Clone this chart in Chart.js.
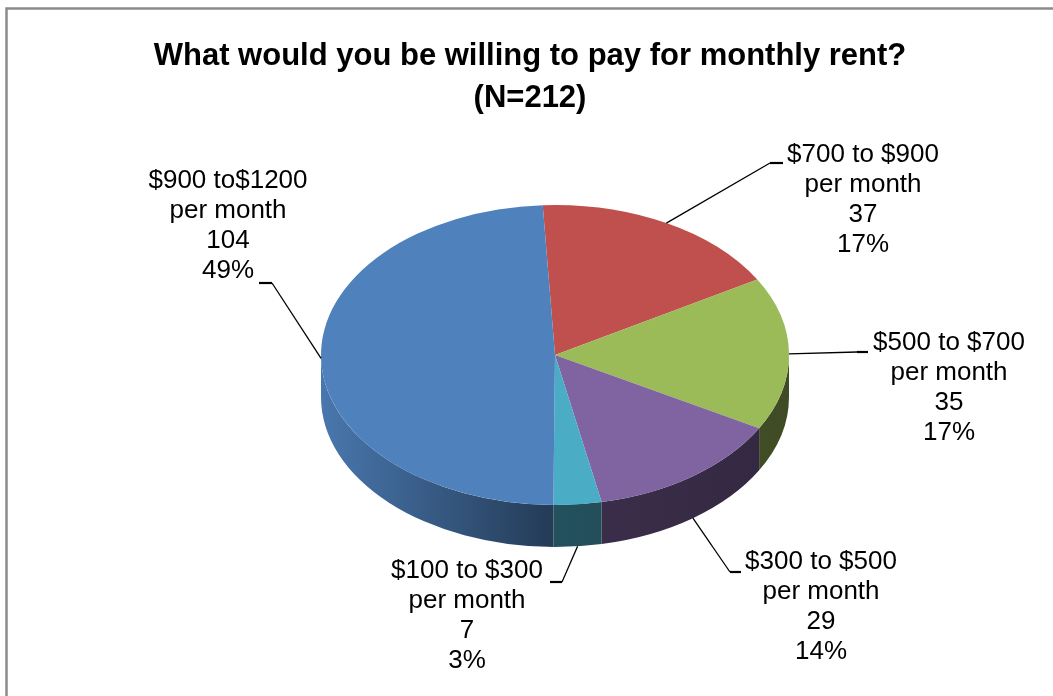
<!DOCTYPE html>
<html lang="en">
<head>
    <meta charset="UTF-8">
    <title>Monthly rent</title>
    <script src="https://cdn.jsdelivr.net/npm/chart.js"></script>
    <style>
        body { margin: 0; background: #fff; }
        canvas { display: block; }
    </style>
</head>
<body>
    <canvas id="rentChart" width="1053" height="696"></canvas>

    <script>
        // survey answers, clockwise from the top
        const categories = ['$700 to $900', '$500 to $700', '$300 to $500', '$100 to $300', '$900 to$1200'];
        const counts = [37, 35, 29, 7, 104];
        const colors = ['#C0504D', '#9BBB59', '#8064A2', '#4BACC6', '#4F81BD'];
        const titleLines = ['What would you be willing to pay for monthly rent?', '(N=212)'];

        // where the flattened pie sits on the page
        const CX = 555, CY = 355, TILT = 0.641, DEPTH = 42;

        // label centre, first line y, and the little stub next to the text
        const labelSpots = [
            { x: 863, y: 155, near: 770, far: 783, sy: 163 },
            { x: 949, y: 343, near: 857, far: 868, sy: 352 },
            { x: 821, y: 562, near: 730, far: 741, sy: 572 },
            { x: 467, y: 571, near: 562, far: 550, sy: 582 },
            { x: 228, y: 181, near: 272, far: 259, sy: 283 },
        ];

        function shade(hex, f) {
            const n = parseInt(hex.slice(1), 16);
            const r = Math.round(((n >> 16) & 255) * f);
            const g = Math.round(((n >> 8) & 255) * f);
            const b = Math.round((n & 255) * f);
            return `rgb(${r},${g},${b})`;
        }

        const pie3d = {
            id: 'pie3d',
            beforeDraw(chart) {
                const ctx = chart.ctx;
                ctx.save();
                ctx.fillStyle = '#fff';
                ctx.fillRect(0, 0, chart.width, chart.height);
                ctx.strokeStyle = '#8c8c8c';
                ctx.lineWidth = 2.5;
                ctx.strokeRect(6.5, 8.5, chart.width + 20, chart.height + 20);
                ctx.restore();
            },
            beforeDatasetsDraw(chart) {
                const ctx = chart.ctx;
                const arcs = chart.getDatasetMeta(0).data;
                const r = arcs[0].outerRadius;
                // side walls, only the front half shows
                arcs.forEach((arc, i) => {
                    const a0 = Math.max(arc.startAngle, 0);
                    const a1 = Math.min(arc.endAngle, Math.PI);
                    if (a1 <= a0) return;
                    const g = ctx.createLinearGradient(CX - r, 0, CX + r, 0);
                    g.addColorStop(0, shade(colors[i], 0.92));
                    g.addColorStop(0.48, shade(colors[i], 0.47));
                    g.addColorStop(1, shade(colors[i], 0.4));
                    ctx.beginPath();
                    ctx.ellipse(CX, CY, r, r * TILT, 0, a0, a1);
                    ctx.ellipse(CX, CY + DEPTH, r, r * TILT, 0, a1, a0, true);
                    ctx.closePath();
                    ctx.fillStyle = g;
                    ctx.fill();
                });
                // squash the top face into an ellipse
                ctx.save();
                ctx.translate(CX, CY);
                ctx.scale(1, TILT);
                ctx.translate(-arcs[0].x, -arcs[0].y);
            },
            afterDatasetsDraw(chart) {
                const ctx = chart.ctx;
                ctx.restore();

                const arcs = chart.getDatasetMeta(0).data;
                const r = arcs[0].outerRadius;
                const total = counts.reduce((a, b) => a + b, 0);

                ctx.save();
                ctx.fillStyle = '#000';
                ctx.strokeStyle = '#000';
                ctx.font = '26px "Liberation Sans", Arial, sans-serif';
                ctx.textAlign = 'center';
                ctx.textBaseline = 'middle';

                arcs.forEach((arc, i) => {
                    const spot = labelSpots[i];
                    const mid = (arc.startAngle + arc.endAngle) / 2;
                    const px = CX + r * Math.cos(mid);
                    const py = CY + r * TILT * Math.sin(mid) + (Math.sin(mid) > 0.5 ? DEPTH : 0);

                    ctx.lineWidth = 1.3;
                    ctx.beginPath();
                    ctx.moveTo(px, py);
                    ctx.lineTo(spot.near, spot.sy);
                    ctx.stroke();
                    ctx.lineWidth = 2.2;
                    ctx.beginPath();
                    ctx.moveTo(spot.near, spot.sy);
                    ctx.lineTo(spot.far, spot.sy);
                    ctx.stroke();

                    const lines = [
                        categories[i],
                        'per month',
                        String(counts[i]),
                        Math.round(counts[i] * 100 / total) + '%',
                    ];
                    lines.forEach((t, k) => ctx.fillText(t, spot.x, spot.y + k * 30));
                });
                ctx.restore();
            },
        };

        const ctx = document.getElementById('rentChart').getContext('2d');
        const rentChart = new Chart(ctx, {
            type: 'pie',
            data: {
                labels: categories,
                datasets: [
                    {
                        data: counts,
                        backgroundColor: colors,
                        borderWidth: 0,
                        clip: false,
                    },
                ],
            },
            options: {
                responsive: false,
                animation: false,
                events: [],
                rotation: -3,
                layout: {
                    padding: { left: 7, right: 0, top: 0, bottom: 109 },
                },
                plugins: {
                    legend: { display: false },
                    tooltip: { enabled: false },
                    title: {
                        display: true,
                        text: titleLines,
                        color: '#000',
                        font: { family: '"Liberation Sans", Arial, sans-serif', size: 31, weight: 'bold', lineHeight: 1.355 },
                        padding: { top: 35, bottom: 0 },
                    },
                },
            },
            plugins: [pie3d],
        });
    </script>
</body>
</html>
